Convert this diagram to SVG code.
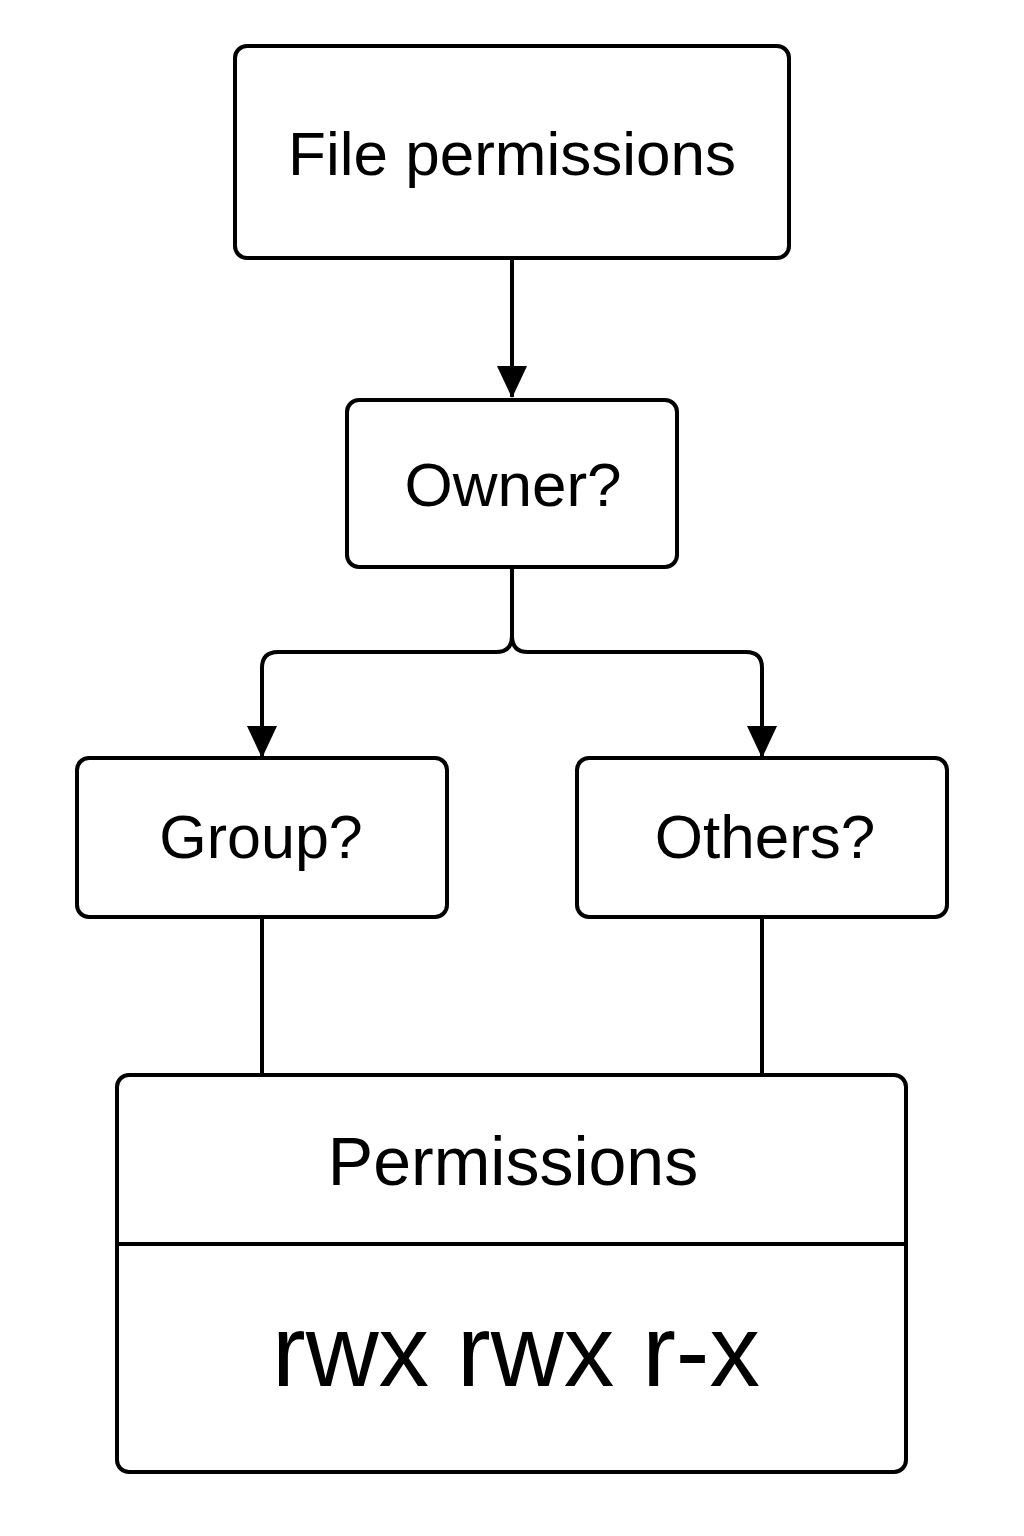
<svg xmlns="http://www.w3.org/2000/svg" width="1024" height="1536" viewBox="0 0 1024 1536">
<style>
.box{fill:#fff;stroke:#000;stroke-width:4}
.ln{fill:none;stroke:#000;stroke-width:4}
.t{font-family:"Liberation Sans",Arial,sans-serif;fill:#000;text-anchor:middle}
</style>
<defs>
<marker id="ah" markerUnits="userSpaceOnUse" markerWidth="32" markerHeight="30" refX="31" refY="15" orient="auto" viewBox="0 0 32 30">
<path d="M0,0 L32,15 L0,30 Z" fill="#000"/>
</marker>
</defs>
<rect width="1024" height="1536" fill="#fff"/>
<g id="connectors">
<path class="ln" d="M512,258 L512,397" marker-end="url(#ah)"/>
<path class="ln" d="M512,567 L512,636 Q512,652 496,652 L278,652 Q262,652 262,668 L262,757" marker-end="url(#ah)"/>
<path class="ln" d="M512,636 Q512,652 528,652 L746,652 Q762,652 762,668 L762,757" marker-end="url(#ah)"/>
<path class="ln" d="M262,917 L262,1075"/>
<path class="ln" d="M762,917 L762,1075"/>
</g>
<g id="file-permissions">
<rect class="box" x="235" y="46" width="554" height="212" rx="12"/>
<text class="t" x="512" y="175" font-size="62">File permissions</text>
</g>
<g id="owner">
<rect class="box" x="347" y="400" width="330" height="167" rx="12"/>
<text class="t" x="513" y="506" font-size="62">Owner?</text>
</g>
<g id="group">
<rect class="box" x="77" y="758" width="370" height="159" rx="12"/>
<text class="t" x="261" y="858" font-size="61">Group?</text>
</g>
<g id="others">
<rect class="box" x="577" y="758" width="370" height="159" rx="12"/>
<text class="t" x="765" y="858" font-size="62">Others?</text>
</g>
<g id="permissions">
<rect class="box" x="117" y="1075" width="789" height="397" rx="12"/>
<line class="ln" x1="117" y1="1244" x2="906" y2="1244"/>
<text class="t" x="513" y="1185" font-size="68">Permissions</text>
<text class="t" x="516" y="1386" font-size="102" textLength="488" lengthAdjust="spacingAndGlyphs">rwx rwx r-x</text>
</g>
</svg>
